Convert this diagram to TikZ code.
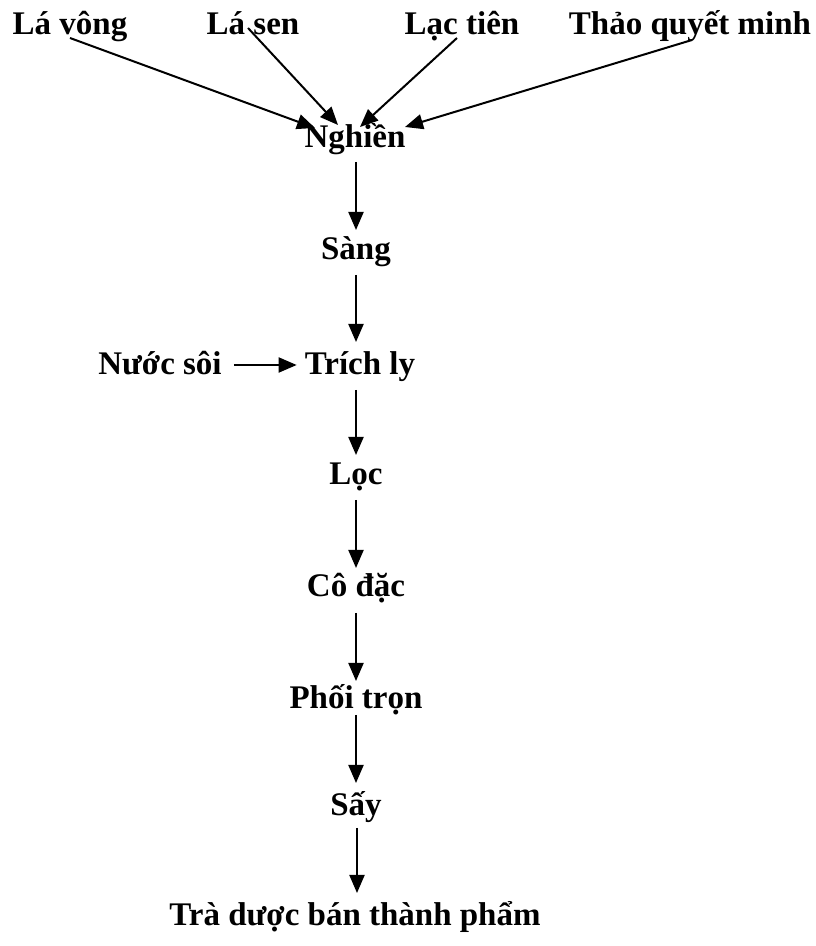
\documentclass[tikz,border=0pt]{standalone}
\usepackage{fontspec}
\setmainfont{Liberation Serif}
\usetikzlibrary{arrows.meta}
\begin{document}
\begin{tikzpicture}[x=1pt,y=1pt,
  lbl/.style={font=\bfseries\fontsize{33}{38}\selectfont, inner sep=0pt, anchor=base},
  flow/.style={line width=2pt, -{Triangle[length=18pt,width=15pt]}}]
\useasboundingbox (0,0) rectangle (816,946);
% raw materials
\node[lbl] (lv) at (70,911) {Lá vông};
\node[lbl] (ls) at (253,911) {Lá sen};
\node[lbl] (lt) at (462,911) {Lạc tiên};
\node[lbl] (tq) at (690,911) {Thảo quyết minh};
% process steps
\node[lbl] (ng) at (355,798) {Nghiền};
\node[lbl] (sg) at (356,686) {Sàng};
\node[lbl] (tl) at (360,571) {Trích ly};
\node[lbl] (ns) at (160,571) {Nước sôi};
\node[lbl] (lc) at (356,461) {Lọc};
\node[lbl] (cd) at (356,349) {Cô đặc};
\node[lbl] (pt) at (356,237) {Phối trọn};
\node[lbl] (sy) at (356,130) {Sấy};
\node[lbl] (tr) at (355,20) {Trà dược bán thành phẩm};
% inputs into grinding
\draw[flow] ([yshift=-3pt]lv.base) -- ([xshift=-40pt,yshift=20pt]ng.base);
\draw[flow] ([xshift=-5pt,yshift=7pt]ls.base) -- ([xshift=-17pt,yshift=23pt]ng.base);
\draw[flow] ([xshift=-5pt,yshift=-3pt]lt.base) -- ([xshift=5pt,yshift=21pt]ng.base);
\draw[flow] ([xshift=2pt,yshift=-5pt]tq.base) -- ([xshift=50pt,yshift=21pt]ng.base);
% main line
\draw[flow] ([xshift=1pt,yshift=-14pt]ng.base) -- ([yshift=30pt]sg.base);
\draw[flow] ([yshift=-15pt]sg.base) -- ([yshift=33pt]sg.base |- tl.base);
\draw[flow] ([xshift=12pt,yshift=10pt]ns.base east) -- ([xshift=-8pt,yshift=10pt]tl.base west);
\draw[flow] ([yshift=-15pt]sg.base |- tl.base) -- ([yshift=30pt]lc.base);
\draw[flow] ([yshift=-15pt]lc.base) -- ([yshift=29pt]cd.base);
\draw[flow] ([yshift=-16pt]cd.base) -- ([yshift=28pt]pt.base);
\draw[flow] ([yshift=-6pt]pt.base) -- ([yshift=33pt]sy.base);
\draw[flow] ([xshift=1pt,yshift=-12pt]sy.base) -- ([xshift=2pt,yshift=33pt]tr.base);
\end{tikzpicture}
\end{document}
